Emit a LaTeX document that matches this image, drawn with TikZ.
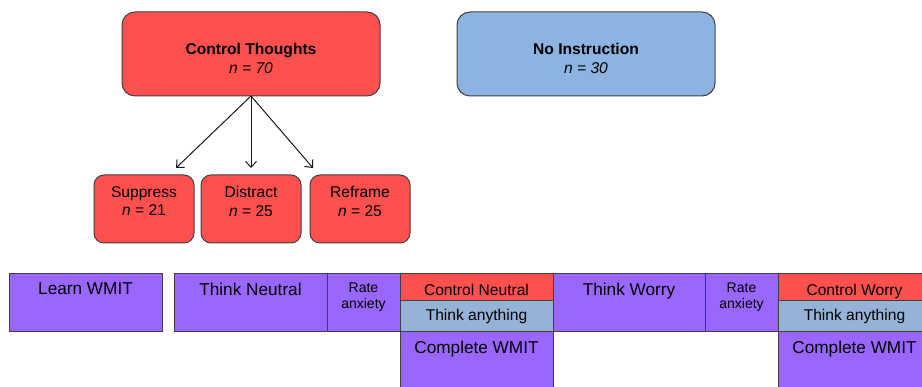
\documentclass[tikz,border=0pt]{standalone}
\usepackage{fontspec}
\setmainfont{Liberation Sans}
\usetikzlibrary{positioning,arrows.meta}

\definecolor{boxred}{HTML}{FF5050}
\definecolor{boxpurple}{HTML}{9966FF}
\definecolor{boxblue}{HTML}{8DB3E2}
\definecolor{bandblue}{HTML}{95B3D7}
\definecolor{edgegray}{HTML}{404040}

\newcommand{\fbig}{\fontsize{17.2}{20.6}\selectfont}
\newcommand{\fmid}{\fontsize{15.6}{18.5}\selectfont}
\newcommand{\fsmall}{\fontsize{14}{16}\selectfont}

\begin{document}
\begin{tikzpicture}[
    x=1pt, y=-1pt, % one unit per pixel, y pointing down
    every node/.style={inner sep=0pt, outer sep=0pt},
    txt/.style={anchor=north, align=center, text=black}, % text hung from the top of a box
    group/.style={draw=edgegray, line width=1pt, rounded corners=13pt, minimum width=258pt, minimum height=84pt},
    arm/.style={draw=edgegray, line width=1pt, fill=boxred, rounded corners=10pt, minimum width=100pt, minimum height=68pt},
    task/.style={draw=edgegray, line width=0.8pt, fill=boxpurple, minimum width=#1, minimum height=58pt},
    band/.style 2 args={draw=edgegray, line width=0.8pt, fill=#1, minimum width=153pt, minimum height=#2},
    every edge/.style={draw=black!90, line width=1pt, -{Straight Barb[length=6pt, width=11pt]}}
]
    \path[use as bounding box, clip] (0,0) rectangle (922,387);

    % groups
    \node[group, fill=boxred, anchor=north west,
          label={[txt, font=\fmid, yshift=-31.5pt]north:\textbf{Control Thoughts}\\\textit{n = 70}}] (ct) at (122,12) {};
    \node[group, fill=boxblue, right=77pt of ct,
          label={[txt, font=\fmid, yshift=-31.5pt]north:\textbf{No Instruction}\\\textit{n = 30}}] (ni) {};

    % control conditions
    \node[arm, below=79pt of ct, label={[txt, font=\fmid, yshift=-11.5pt]north:Distract\\\textit{n} = 25}] (dis) {};
    \node[arm, left=7pt of dis, label={[txt, font=\fmid, yshift=-11.5pt]north:Suppress\\\textit{n} = 21}] (sup) {};
    \node[arm, right=9pt of dis, label={[txt, font=\fmid, yshift=-11.5pt]north:Reframe\\\textit{n} = 25}] (ref) {};

    \coordinate (tip1) at (176,168);
    \coordinate (tip2) at (dis.north |- tip1);
    \coordinate (tip3) at (313,168);
    \path (ct.south) edge (tip1) edge (tip2) edge (tip3);

    % procedure
    \node[task=153pt, anchor=north west, label={[txt, font=\fbig, yshift=-10pt]north:Learn WMIT}] (learn) at (9,273) {};
    \node[task=153pt, right=12pt of learn, label={[txt, font=\fbig, yshift=-10pt]north:Think Neutral}] (tneu) {};
    \node[task=73pt, right=0pt of tneu, label={[txt, font=\fsmall, yshift=-10pt]north:Rate\\anxiety}] (rate1) {};
    \node[band={boxred}{27pt}, anchor=north west, label={[txt, font=\fmid, yshift=-11pt]north:Control Neutral}] (cneu) at (rate1.north east) {};
    \node[band={bandblue}{31pt}, below=0pt of cneu, label={[txt, font=\fmid, yshift=-9pt]north:Think anything}] (any1) {};
    \node[band={boxpurple}{70pt}, below=0pt of any1, label={[txt, font=\fbig, yshift=-10.5pt]north:Complete WMIT}] (wmit1) {};

    \node[task=152pt, anchor=north west, label={[txt, font=\fbig, yshift=-10pt]north:Think Worry}] (twor) at (cneu.north east) {};
    \node[task=73pt, right=0pt of twor, label={[txt, font=\fsmall, yshift=-10pt]north:Rate\\anxiety}] (rate2) {};
    \node[band={boxred}{27pt}, anchor=north west, label={[txt, font=\fmid, yshift=-11pt]north:Control Worry}] (cwor) at (rate2.north east) {};
    \node[band={bandblue}{31pt}, below=0pt of cwor, label={[txt, font=\fmid, yshift=-9pt]north:Think anything}] (any2) {};
    \node[band={boxpurple}{70pt}, below=0pt of any2, label={[txt, font=\fbig, yshift=-10.5pt]north:Complete WMIT}] (wmit2) {};
\end{tikzpicture}
\end{document}
